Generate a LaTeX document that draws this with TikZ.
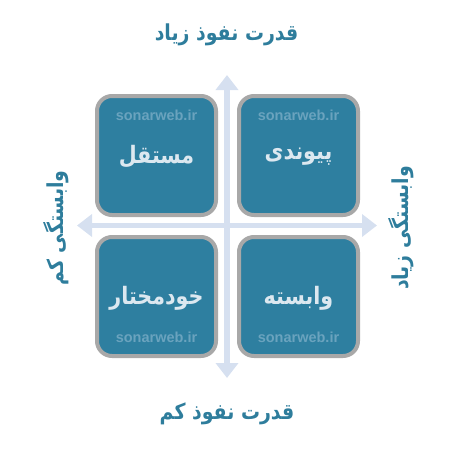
\documentclass[tikz,border=0pt]{standalone}
\usepackage{fontspec}
\usetikzlibrary{arrows.meta}
\TeXXeTstate=1
\newfontfamily\fa[Script=Arabic]{DejaVu Sans}
\newfontfamily\wm{Liberation Sans}
\newcommand\hsq[1]{\scalebox{0.86}[1]{#1}}
\definecolor{boxblue}{HTML}{2E7FA0}
\definecolor{boxgray}{HTML}{A8A8A8}
\definecolor{axiscol}{HTML}{D6E0F0}
\definecolor{titlecol}{HTML}{2E7D9C}
\definecolor{boxtext}{HTML}{DCE8F0}
\definecolor{wmcol}{HTML}{6AA3BE}
\tikzset{
  quad/.style={draw=boxgray, fill=boxblue, line width=4pt, rounded corners=15pt, minimum width=119pt, minimum height=119pt, inner sep=0pt},
  axis/.style={draw=axiscol, line width=5.5pt, {Triangle[width=22pt,length=15pt]}-{Triangle[width=22pt,length=15pt]}},
  title/.style={text=titlecol, font=\fa\bfseries\fontsize{22}{25}\selectfont, inner sep=0pt},
  qtext/.style={text=boxtext, font=\fa\bfseries\fontsize{24}{27}\selectfont, inner sep=0pt},
  wmark/.style={text=wmcol, font=\wm\bfseries\fontsize{14.5}{16}\selectfont, inner sep=0pt}
}
\begin{document}
\begin{tikzpicture}[x=1pt,y=-1pt]
\useasboundingbox (0,0) rectangle (450,450);
\coordinate (vt) at (227,75);
\coordinate (vb) at (227,378);
\coordinate (hl) at (77,225.5);
\coordinate (hr) at (377,225.5);
\draw[axis] (vb) -- (vt);
\draw[axis] (hl) -- (hr);
\node[quad] (tl) at (156.5,155.5) {};
\node[quad] (tr) at (298.5,155.5) {};
\node[quad] (bl) at (156.5,296.5) {};
\node[quad] (br) at (298.5,296.5) {};
\node[wmark] (wtl) at (156.5,115) {sonarweb.ir};
\node[wmark] (wtr) at (298.5,115) {sonarweb.ir};
\node[wmark] (wbl) at (156.5,337) {sonarweb.ir};
\node[wmark] (wbr) at (298.5,337) {sonarweb.ir};
\node[qtext] (ttl) at (156.5,157) {\hsq{\beginR مستقل\endR}};
\node[qtext] (ttr) at (298.5,157) {\hsq{\beginR پیوندی\endR}};
\node[qtext] (tbl) at (156.5,298) {\hsq{\beginR خودمختار\endR}};
\node[qtext] (tbr) at (298.5,298) {\hsq{\beginR وابسته\endR}};
\node[title] (top) at (226.5,35) {\hsq{\beginR قدرت نفوذ زیاد\endR}};
\node[title] (bot) at (227,414) {\hsq{\beginR قدرت نفوذ کم\endR}};
\node[title, rotate=90] (lft) at (56,228) {\hsq{\beginR وابستگی کم\endR}};
\node[title, rotate=90] (rgt) at (401,228) {\hsq{\beginR وابستگی زیاد\endR}};
\end{tikzpicture}
\end{document}
